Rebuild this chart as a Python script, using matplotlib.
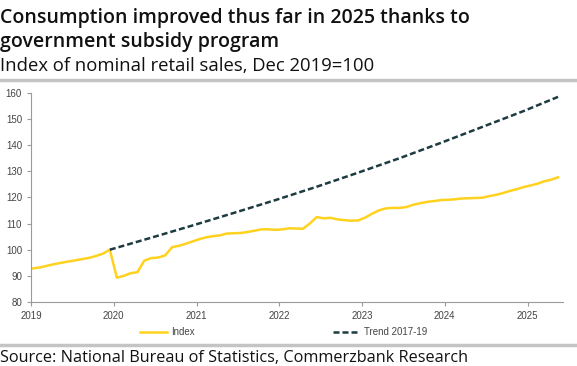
import matplotlib
matplotlib.use("Agg")
import matplotlib.pyplot as plt
import pandas as pd
from matplotlib.lines import Line2D

# monthly index, Dec 2018 .. May 2025 (Dec 2019 = 100)
index_vals = [
    92.6,
    92.9, 93.3, 93.9, 94.5, 95.0, 95.5, 95.9, 96.4, 96.9, 97.6, 98.5, 100.0,
    89.3, 90.0, 91.0, 91.4, 95.8, 96.8, 97.0, 97.8, 101.0, 101.5, 102.3, 103.2,
    104.1, 104.8, 105.2, 105.5, 106.2, 106.3, 106.4, 106.8, 107.3, 107.8, 107.8, 107.6,
    107.8, 108.2, 108.1, 108.0, 110.0, 112.5, 112.0, 112.2, 111.6, 111.3, 111.1, 111.2,
    112.3, 113.8, 115.0, 115.8, 116.0, 116.0, 116.3, 117.2, 117.8, 118.3, 118.6, 119.0,
    119.1, 119.3, 119.6, 119.7, 119.8, 119.9, 120.5, 121.0, 121.7, 122.5, 123.2, 124.0,
    124.6, 125.3, 126.2, 126.8, 127.7,
]
index_dates = pd.date_range("2018-12-01", periods=len(index_vals), freq="MS") + pd.Timedelta(days=14)

# trend 2017-19 extrapolated, read at half-year points
trend_months = ["2019-12", "2020-06", "2020-12", "2021-06", "2021-12", "2022-06",
                "2022-12", "2023-06", "2023-12", "2024-06", "2024-12", "2025-05"]
trend_vals = [100.0, 104.6, 109.3, 114.1, 119.0, 124.1,
              129.5, 135.0, 140.9, 147.0, 153.1, 158.5]
trend_dates = pd.to_datetime(trend_months) + pd.Timedelta(days=14)

years = [2019, 2020, 2021, 2022, 2023, 2024, 2025]
yticks = [80, 90, 100, 110, 120, 130, 140, 150, 160]

YELLOW = "#FFD21F"
DARK = "#1D3B40"
GRAY = "#9a9a9a"
DASH = (0, (2.4, 1.2))
HEAD = ["Open Sans", "DejaVu Sans"]

plt.rcParams["font.family"] = ["Liberation Sans", "DejaVu Sans"]

fig = plt.figure(figsize=(5.77, 3.66), dpi=100)
ax = fig.add_axes([0.0537, 0.175, 0.922, 0.571])

ax.plot(index_dates, index_vals, color=YELLOW, lw=1.8, solid_joinstyle="round")
ax.plot(trend_dates, trend_vals, color=DARK, lw=1.8, ls=DASH)

ax.set_xlim(pd.Timestamp("2019-01-01"), pd.Timestamp("2025-06-06"))
ax.set_ylim(80, 160)
ax.set_yticks(yticks)
ax.set_xticks([pd.Timestamp(f"{y}-01-01") for y in years])
ax.set_xticklabels([str(y) for y in years])

for s in ["top", "right"]:
    ax.spines[s].set_visible(False)
for s in ["left", "bottom"]:
    ax.spines[s].set_color(GRAY)
    ax.spines[s].set_linewidth(0.8)
ax.tick_params(axis="both", colors=GRAY, labelcolor="#444444", labelsize=7,
               length=3, width=0.8, direction="out")

fig.text(0.0, 1 - 23 / 366, "Consumption improved thus far in 2025 thanks to",
         fontsize=14, fontweight="semibold", color="#111111", family=HEAD, va="baseline")
fig.text(0.0, 1 - 47 / 366, "government subsidy program",
         fontsize=14, fontweight="semibold", color="#111111", family=HEAD, va="baseline")
fig.text(0.0, 1 - 71 / 366, "Index of nominal retail sales, Dec 2019=100",
         fontsize=13.3, color="#111111", family=HEAD, va="baseline")

fig.add_artist(Line2D([0, 0.997], [1 - 80 / 366] * 2, color="#c4c4c4", lw=2.5))
fig.add_artist(Line2D([0, 0.997], [1 - 345 / 366] * 2, color="#c4c4c4", lw=2.5))

handles = [Line2D([], [], color=YELLOW, lw=1.8),
           Line2D([], [], color=DARK, lw=1.8, ls=DASH)]
fig.legend(handles, ["Index", "Trend 2017-19"], loc="center",
           bbox_to_anchor=(0.492, 1 - 332 / 366), ncol=2, frameon=False,
           fontsize=7, handlelength=2.7, handletextpad=0.5, columnspacing=14.2,
           labelcolor="#444444", borderpad=0)

fig.text(0.0, 1 - 362 / 366, "Source: National Bureau of Statistics, Commerzbank Research",
         fontsize=11.7, color="#111111", family=HEAD, va="baseline")

fig.savefig("out.png", dpi=100)
